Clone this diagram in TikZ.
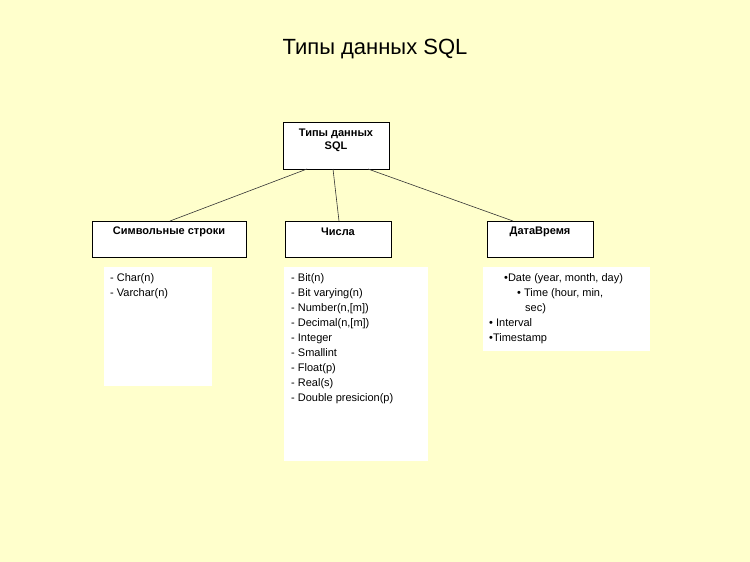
\documentclass[tikz,border=0pt]{standalone}
\usepackage{fontspec}
\setmainfont{Liberation Sans}
\begin{document}
\begin{tikzpicture}[x=1pt,y=-1pt,
  box/.style={draw=black,fill=white,line width=0.8pt},
  lst/.style={fill=white},
  btxt/.style={font=\bfseries\fontsize{11}{13}\selectfont,align=center},
  ltxt/.style={font=\fontsize{11}{15}\selectfont,align=left,anchor=north west,inner sep=0pt},
  conn/.style={draw=black!80,line width=0.6pt}]
\useasboundingbox[fill={rgb,255:red,255;green,255;blue,204}] (0,0) rectangle (750,562);
\node[font=\fontsize{22}{26}\selectfont] (title) at (375,49) {Типы данных SQL};
\draw[box] (283,122) rectangle (389,169);
\node[btxt] (root) at (336,140) {Типы данных\\SQL};
\draw[box] (92,221) rectangle (246,257);
\node[btxt] (s) at (169,232) {Символьные строки};
\draw[box] (285,221) rectangle (391,257);
\node[btxt] (n) at (338,232) {Числа};
\draw[box] (487,221) rectangle (593,257);
\node[btxt] (d) at (540,232) {ДатаВремя};
\coordinate (r1) at (307,169); \coordinate (r2) at (333,169); \coordinate (r3) at (368,169);
\coordinate (s1) at (170,221); \coordinate (n1) at (339,221); \coordinate (d1) at (513,221);
\draw[conn] (r1) -- (s1); \draw[conn] (r2) -- (n1); \draw[conn] (r3) -- (d1);
\fill[lst] (104,267) rectangle (212,386);
\fill[lst] (284,267) rectangle (428,461);
\fill[lst] (483,267) rectangle (650,351);
\node[ltxt] (sl) at (110,273) {- Char(n)\\- Varchar(n)};
\node[ltxt] (nl) at (291,273) {- Bit(n)\\- Bit varying(n)\\- Number(n,[m])\\- Decimal(n,[m])\\- Integer\\- Smallint\\- Float(p)\\- Real(s)\\- Double presicion(p)};
\node[ltxt] (dl) at (489,273) {\hspace{15pt}•Date (year, month, day)\\\hspace{28pt}• Time (hour, min,\\\hspace{36pt}sec)\\• Interval\\•Timestamp};
\end{tikzpicture}
\end{document}
